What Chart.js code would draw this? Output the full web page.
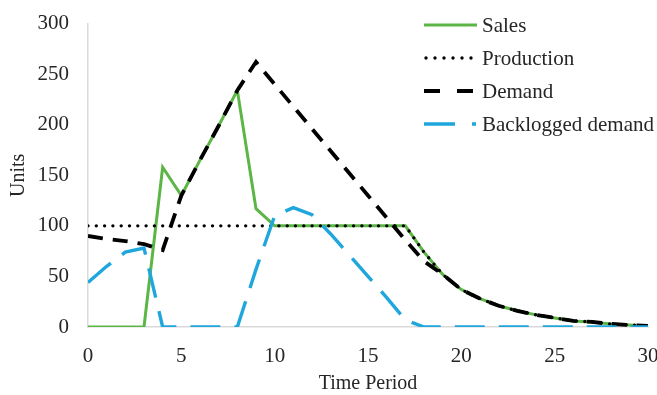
<!DOCTYPE html>
<html>
<head>
<meta charset="utf-8">
<script src="https://cdn.jsdelivr.net/npm/chart.js@4.4.1/dist/chart.umd.min.js"></script>
<style>
  html, body { margin: 0; padding: 0; background: #fff; }
  #wrap { width: 657px; height: 395px; }
</style>
</head>
<body>
<div id="wrap"><canvas id="myChart" width="657" height="395"></canvas></div>
<script>
// values, one entry per time period
let periods = [0, 1, 2, 3, 4, 5, 6, 7, 8, 9, 10, 11, 12, 13, 14, 15, 16, 17, 18, 19, 20, 21, 22, 23, 24, 25, 26, 27, 28, 29, 30];
let sales = [0, 0, 0, 0, 158, 130, 165, 199, 234, 117, 100, 100, 100, 100, 100, 100, 100, 100, 74, 52, 37, 28, 21, 16, 12, 9, 6, 5, 3, 2, 1];
let production = [100, 100, 100, 100, 100, 100, 100, 100, 100, 100, 100, 100, 100, 100, 100, 100, 100, 100, 74, 52, 37, 28, 21, 16, 12, 9, 6, 5, 3, 2, 1];
let demand = [90, 87, 85, 82, 76, 130, 165, 199, 234, 262, 240, 218, 196, 174, 152, 130, 108, 86, 65, 52, 37, 28, 21, 16, 12, 9, 6, 5, 3, 2, 1];
let backlogged = [44, 60, 74, 78, 0, 0, 0, 0, 0, 57, 110, 118, 111, 92, 71, 50, 29, 7, 0, 0, 0, 0, 0, 0, 0, 0, 0, 0, 0, 0, 0];

let seriesNames = ["Sales", "Production", "Demand", "Backlogged demand"];
let yTicks = [0, 50, 100, 150, 200, 250, 300];
let xTicks = [0, 5, 10, 15, 20, 25, 30];

let fontFamily = "'Liberation Serif', 'Times New Roman', serif";
let textColor = "#262626";

function toPoints(values) {
    return periods.map((p, i) => ({ x: p, y: values[i] }));
}

/**
 * Legend drawn inside the plot, top right, like the original.
 * The samples use their own dash spacing so they look like the source.
 */
const insideLegend = {
    id: "insideLegend",
    afterDraw(chart) {
        const ctx = chart.ctx;
        const rowY = [25, 58, 91, 124];
        const sampleDash = [[], [0, 9], [16, 17], [31, 17]];
        const sampleEnd = [477, 476, 473, 476];
        ctx.save();
        chart.data.datasets.forEach((ds, i) => {
            const y = rowY[i];
            ctx.beginPath();
            ctx.setLineDash(sampleDash[i]);
            ctx.lineCap = ds.borderCapStyle || "butt";
            ctx.lineWidth = ds.borderWidth;
            ctx.strokeStyle = ds.borderColor;
            ctx.moveTo(i == 1 ? 426 : 424, y);
            ctx.lineTo(sampleEnd[i], y);
            ctx.stroke();
            ctx.setLineDash([]);
            ctx.fillStyle = textColor;
            ctx.font = "21px " + fontFamily;
            ctx.textBaseline = "middle";
            ctx.textAlign = "left";
            ctx.fillText(ds.label, 482, y + 1);
        });
        ctx.restore();
    }
};

new Chart("myChart", {
    type: "line",
    data: {
        datasets: [
            {
                label: seriesNames[0],
                data: toPoints(sales),
                borderColor: "#5cb646",
                borderWidth: 3,
                order: 4
            },
            {
                label: seriesNames[1],
                data: toPoints(production),
                borderColor: "#000000",
                borderWidth: 3.4,
                borderDash: [0, 8.3],
                borderCapStyle: "round",
                order: 3
            },
            {
                label: seriesNames[2],
                data: toPoints(demand),
                borderColor: "#000000",
                borderWidth: 3.8,
                borderDash: [15, 10],
                order: 2
            },
            {
                label: seriesNames[3],
                data: toPoints(backlogged),
                borderColor: "#1fa7dd",
                borderWidth: 3.4,
                borderDash: [30, 14],
                order: 1
            }
        ]
    },
    options: {
        responsive: false,
        animation: false,
        layout: { padding: { top: 20, right: 9, bottom: 0, left: 0 } },
        elements: {
            point: { radius: 0 },
            line: { tension: 0, fill: false }
        },
        plugins: {
            legend: { display: false },
            tooltip: { enabled: false }
        },
        scales: {
            x: {
                type: "linear",
                min: 0,
                max: 30,
                afterBuildTicks: (scale) => { scale.ticks = xTicks.map(v => ({ value: v })); },
                afterFit: (scale) => { scale.height = 68; scale.paddingLeft = 0; scale.paddingRight = 0; },
                grid: { display: false },
                border: { display: true, color: "#d9d9d9", width: 1.5 },
                ticks: { padding: 9, color: textColor, font: { family: fontFamily, size: 21 }, maxRotation: 0 },
                title: {
                    display: true,
                    text: "Time Period",
                    color: textColor,
                    font: { family: fontFamily, size: 20 },
                    padding: { top: 0, bottom: -1 }
                }
            },
            y: {
                min: 0,
                max: 300,
                afterBuildTicks: (scale) => { scale.ticks = yTicks.map(v => ({ value: v })); },
                afterFit: (scale) => { scale.width = 88; },
                grid: { display: false },
                border: { display: true, color: "#d9d9d9", width: 1.5 },
                ticks: { padding: 11, color: textColor, font: { family: fontFamily, size: 21 } },
                title: {
                    display: true,
                    text: "Units",
                    color: textColor,
                    font: { family: fontFamily, size: 20 },
                    padding: { top: 7, bottom: 0 }
                }
            }
        }
    },
    plugins: [insideLegend]
});
</script>
</body>
</html>
